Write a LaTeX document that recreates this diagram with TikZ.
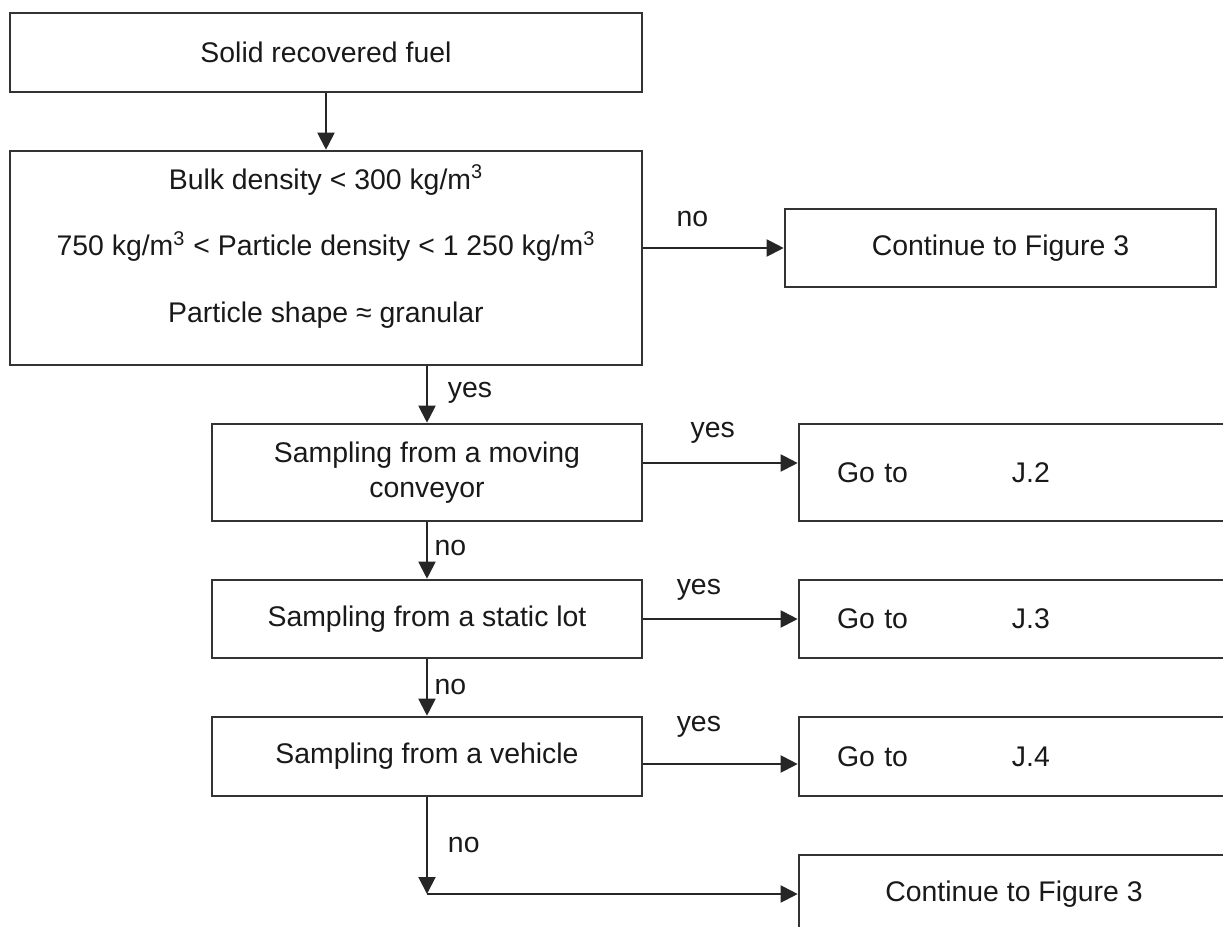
\documentclass[tikz,border=0pt]{standalone}
\usepackage{fontspec}
\setmainfont{Liberation Sans}
\usetikzlibrary{arrows.meta, positioning}

\begin{document}
\begin{tikzpicture}[
  font=\fontsize{14.2}{17.5}\selectfont,
  every node/.style={inner sep=0pt, align=center, text=black!90},
  box/.style={draw=black!80, line width=1.3pt, minimum width=316pt},
  test/.style={draw=black!80, line width=1.3pt, minimum width=215pt},
  target/.style={test, text width=177pt, align=left, inner xsep=19pt},
  lbl/.style={inner sep=3.3pt},
  arrow/.style={-{Triangle[length=8.5pt, width=8.5pt]}, line width=1pt, draw=black!85}
]
\useasboundingbox (-163pt,26.25pt) rectangle (448.5pt,-437.25pt);
\clip (-163pt,26.25pt) rectangle (448.5pt,-437.25pt);

% Material and first check
\node[box, minimum height=39.5pt] (fuel) {Solid recovered fuel};
\node[box, minimum height=107pt, below=28.2pt of fuel] (dens) {};
\node[font=\fontsize{14.2}{33.25}\selectfont] (denstext) at ([yshift=5.75pt]dens.center)
  {Bulk density < 300 kg/m\textsuperscript{3}\\
   750 kg/m\textsuperscript{3} < Particle density < 1 250 kg/m\textsuperscript{3}\\
   Particle shape ≈ granular};
\node[box, minimum width=215.5pt, minimum height=39pt, right=70.2pt of dens, yshift=5pt] (fig3a) {Continue to Figure 3};

% Sampling situation
\node[test, minimum height=48.5pt, below=28.2pt of dens, xshift=50.5pt] (conveyor) {Sampling from a moving\\conveyor};
\node[test, minimum height=39pt, below=28.2pt of conveyor] (static) {Sampling from a static lot};
\node[test, minimum height=39.5pt, below=28.2pt of static] (vehicle) {Sampling from a vehicle};

% Where to go next
\node[target, minimum height=48.5pt, right=77.2pt of conveyor] (gotoJ2) {\makebox[87.5pt][l]{Go to}J.2};
\node[target, minimum height=39pt, right=77.2pt of static] (gotoJ3) {\makebox[87.5pt][l]{Go to}J.3};
\node[target, minimum height=39.5pt, right=77.2pt of vehicle] (gotoJ4) {\makebox[87.5pt][l]{Go to}J.4};
\node[test, minimum height=39pt, below=28.2pt of gotoJ4] (fig3b) {Continue to Figure 3};

% Arrows
\draw[arrow] (fuel) -- (dens);
\draw[arrow] (dens.east |- fig3a) -- node[lbl, pos=.35, yshift=14.5pt] {no} (fig3a);
\draw[arrow] (dens.south -| conveyor) -- node[lbl, right=6.7pt, pos=.47] {yes} (conveyor);

\draw[arrow] ([yshift=4.75pt]conveyor.east) -- node[lbl, pos=.45, yshift=15pt] {yes} ([yshift=4.75pt]gotoJ2.west);
\draw[arrow] (conveyor) -- node[lbl, right, pos=.46] {no} (static);
\draw[arrow] (static) -- node[lbl, pos=.36, yshift=14.5pt] {yes} (gotoJ3);
\draw[arrow] (static) -- node[lbl, right, pos=.49] {no} (vehicle);
\draw[arrow] ([yshift=-3.75pt]vehicle.east) -- node[lbl, pos=.36, yshift=18.5pt] {yes} ([yshift=-3.75pt]gotoJ4.west);

\coordinate (turn) at (vehicle.south |- fig3b.west);
\draw[arrow] (vehicle) -- node[lbl, right=6.7pt, pos=.49] {no} (turn);
\draw[arrow] (turn) -- (fig3b);

\end{tikzpicture}
\end{document}
